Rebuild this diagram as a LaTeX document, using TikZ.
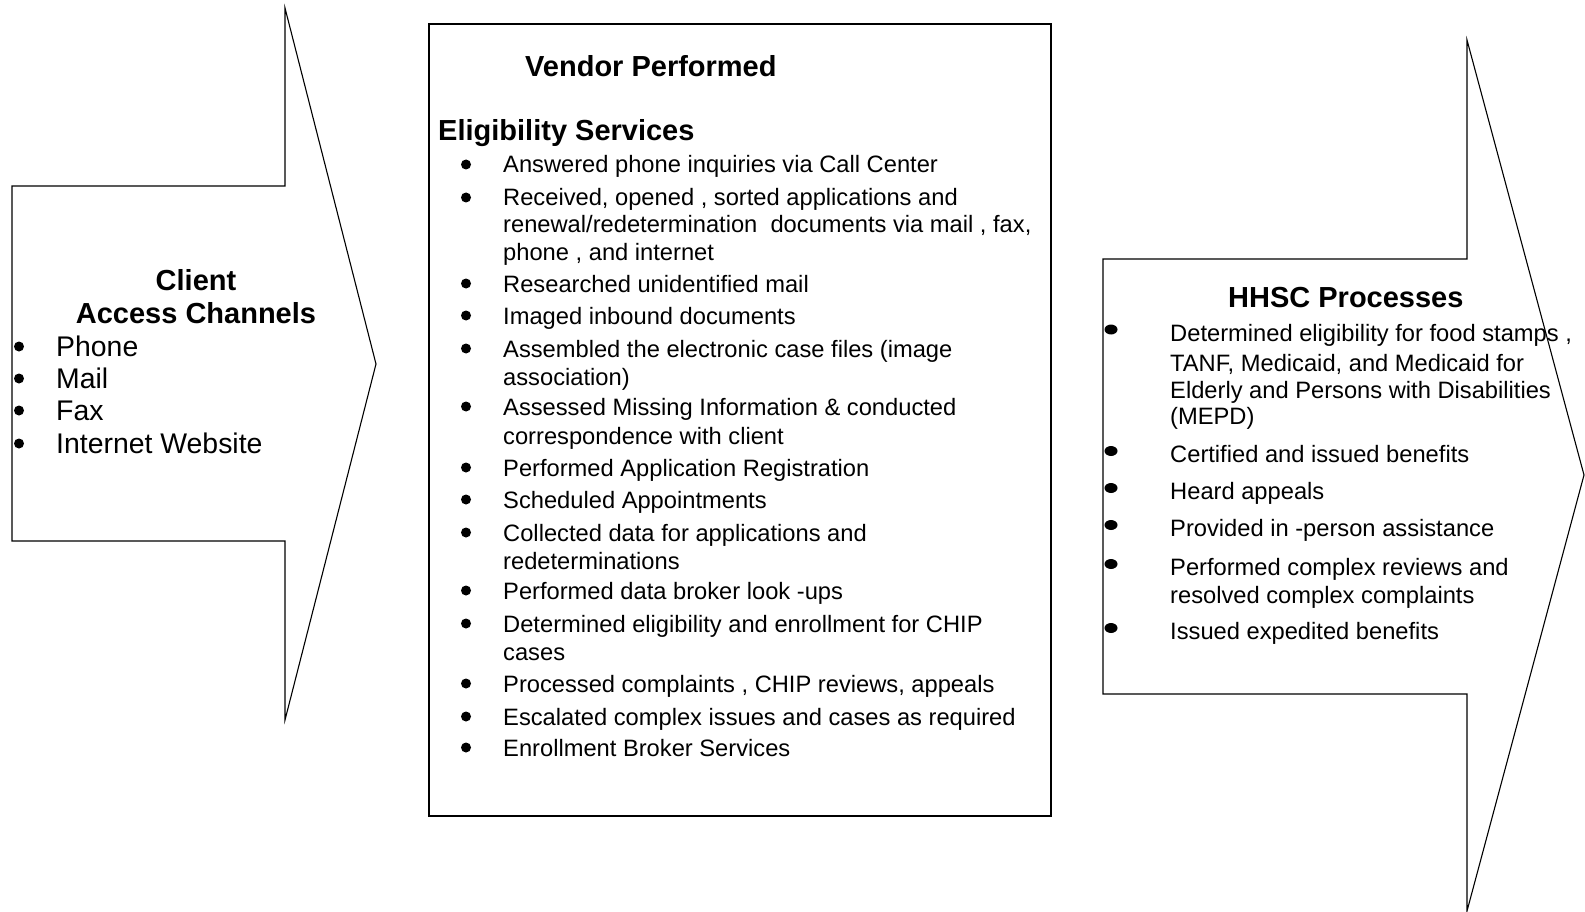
\documentclass[tikz,border=0pt]{standalone}
\usepackage{fontspec}
\setmainfont{Liberation Sans}
\usetikzlibrary{positioning}

\begin{document}
\begin{tikzpicture}[
    x=1pt, y=-1pt,
    outline/.style={draw=black, line width=1.1pt, line join=miter},
    heading/.style={font=\fontsize{29}{31}\selectfont\bfseries, inner sep=0pt},
    bigtext/.style={font=\fontsize{28.4}{30}\selectfont, anchor=base west, inner sep=0pt},
    itemtext/.style={font=\fontsize{23.7}{26}\selectfont, anchor=base west, inner sep=0pt},
    bulletdot/.style={fill=black}
]
\useasboundingbox (0,0) rectangle (1585,912);

% Outlines
\draw[outline] (12,186) -- (285,186) -- (285,8) -- (376,364) -- (285,720)
    -- (285,541) -- (12,541) -- cycle;
\draw[outline] (429,24) rectangle (1051,816);
\draw[outline] (1103,259) -- (1467,259) -- (1467,40) -- (1584,475) -- (1467,911)
    -- (1467,694) -- (1103,694) -- cycle;

% Headings
\node[heading, anchor=base] (client) at (196,290) {Client};
\node[heading, anchor=base] (channels) at (196,323) {Access Channels};
\node[heading, anchor=base west] (vendor) at (525,77) {Vendor Performed};
\node[heading, anchor=base west] (elig) at (438,141) {Eligibility Services};
\node[heading, anchor=base west] (hhsc) at (1228,307) {HHSC Processes};

% Client access channels
\foreach \yy/\txt [count=\i] in {356/Phone, 388/Mail, 420/Fax, 453/Internet Website} {
    \node[bigtext] (l\i) at (56,\yy) {\txt};
    \fill[bulletdot] (19,\yy-9.5) circle (5pt);
}

% Vendor performed services
\foreach \yy/\txt [count=\i] in {
    173/{Answered phone inquiries via Call Center},
    206/{Received, opened , sorted applications and},
    233/{renewal/redetermination\ \ documents via mail , fax,},
    261/{phone , and internet},
    292/{Researched unidentified mail},
    324/{Imaged inbound documents},
    357/{Assembled the electronic case files (image},
    385/{association)},
    415/{Assessed Missing Information \& conducted},
    444/{correspondence with client},
    476/{Performed Application Registration},
    508/{Scheduled Appointments},
    541/{Collected data for applications and},
    569/{redeterminations},
    599/{Performed data broker look -ups},
    632/{Determined eligibility and enrollment for CHIP},
    660/{cases},
    692/{Processed complaints , CHIP reviews, appeals},
    725/{Escalated complex issues and cases as required},
    756/{Enrollment Broker Services}} {
    \node[itemtext] (m\i) at (503,\yy) {\txt};
}
\foreach \yy in {173,206,292,324,357,415,476,508,541,599,632,692,725,756}
    \fill[bulletdot] (466,\yy-8.5) circle (5pt);

% HHSC processes
\foreach \yy/\txt [count=\i] in {
    341/{Determined eligibility for food stamps ,},
    371.5/{TANF, Medicaid, and Medicaid for},
    398.5/{Elderly and Persons with Disabilities},
    424.5/{(MEPD)},
    462.5/{Certified and issued benefits},
    499.5/{Heard appeals},
    536.5/{Provided in -person assistance},
    575.5/{Performed complex reviews and},
    603.5/{resolved complex complaints},
    639.5/{Issued expedited benefits}} {
    \node[itemtext] (r\i) at (1170,\yy) {\txt};
}
\foreach \yy in {341,462.5,499.5,536.5,575.5,639.5}
    \fill[bulletdot] (1111,\yy-11.5) ellipse (6.5pt and 5pt);

\end{tikzpicture}
\end{document}
